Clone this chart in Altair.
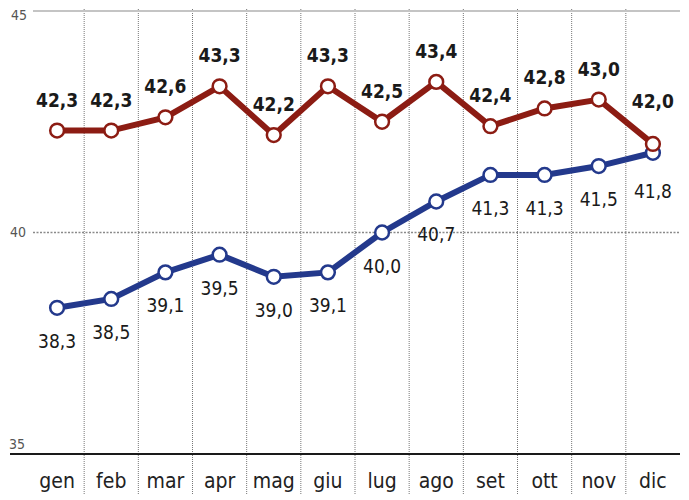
import altair as alt
import pandas as pd

months = ["gen", "feb", "mar", "apr", "mag", "giu", "lug", "ago", "set", "ott", "nov", "dic"]
red_values = [42.3, 42.3, 42.6, 43.3, 42.2, 43.3, 42.5, 43.4, 42.4, 42.8, 43.0, 42.0]
blue_values = [38.3, 38.5, 39.1, 39.5, 39.0, 39.1, 40.0, 40.7, 41.3, 41.3, 41.5, 41.8]
y_ticks = [35, 40, 45]

RED = "#8c1c13"
BLUE = "#23398c"
FONT = "'DejaVu Sans Condensed', 'Liberation Sans Narrow', 'Roboto Condensed', 'Arial Narrow', sans-serif"


def fmt(v):
    return f"{v:.1f}".replace(".", ",")


red_df = pd.DataFrame({"month": months, "value": red_values, "label": [fmt(v) for v in red_values]})
blue_df = pd.DataFrame({"month": months, "value": blue_values, "label": [fmt(v) for v in blue_values]})
bound_df = pd.DataFrame({"month": months[1:]})
tick_df = pd.DataFrame({"v": y_ticks, "label": [str(t) for t in y_ticks]})

xscale = alt.Scale(type="band", domain=months, paddingInner=0, paddingOuter=0)
yscale = alt.Scale(domain=[35, 45], nice=False, zero=False)
xaxis = alt.Axis(title=None, domain=False, ticks=False, grid=False, labelAngle=0,
                 labelFont=FONT, labelFontSize=21, labelColor="#222222", labelPadding=16)

X = alt.X("month:N", scale=xscale, bandPosition=0.5, axis=xaxis)
Y = alt.Y("value:Q", scale=yscale, axis=None)

# vertical dotted separators
vrules = alt.Chart(bound_df).mark_rule(color="#777777", strokeWidth=1, strokeDash=[1, 1]).encode(
    x=alt.X("month:N", scale=xscale, bandPosition=0, axis=xaxis),
    y=alt.value(-12), y2=alt.value(490))

# horizontal lines
h45 = alt.Chart(pd.DataFrame({"v": [45]})).mark_rule(color="#c4c4c4", strokeWidth=2).encode(
    y=alt.Y("v:Q", scale=yscale, axis=None), x=alt.value(3), x2=alt.value(650))
h40 = alt.Chart(pd.DataFrame({"v": [40]})).mark_rule(color="#8a8a8a", strokeWidth=1.5, strokeDash=[2, 1.5]).encode(
    y=alt.Y("v:Q", scale=yscale, axis=None), x=alt.value(3), x2=alt.value(650))
h35 = alt.Chart(pd.DataFrame({"v": [35]})).mark_rule(color="#1a1a1a", strokeWidth=2).encode(
    y=alt.Y("v:Q", scale=yscale, axis=None), x=alt.value(-20), x2=alt.value(650))

ylab_45 = alt.Chart(tick_df).transform_filter("datum.v == 45").mark_text(
    font=FONT, fontSize=14, color="#555555", align="right", baseline="middle", dy=5).encode(
    y=alt.Y("v:Q", scale=yscale, axis=None), x=alt.value(-3), text="label:N")
ylab_40 = alt.Chart(tick_df).transform_filter("datum.v == 40").mark_text(
    font=FONT, fontSize=14, color="#555555", align="right", baseline="middle").encode(
    y=alt.Y("v:Q", scale=yscale, axis=None), x=alt.value(-4), text="label:N")
ylab_35 = alt.Chart(tick_df).transform_filter("datum.v == 35").mark_text(
    font=FONT, fontSize=14, color="#555555", align="right", baseline="middle", dy=-9).encode(
    y=alt.Y("v:Q", scale=yscale, axis=None), x=alt.value(-5), text="label:N")

blue_line = alt.Chart(blue_df).mark_line(color=BLUE, strokeWidth=6).encode(x=X, y=Y)
blue_pts = alt.Chart(blue_df).mark_point(shape="circle", size=190, filled=True, fill="white",
                                          stroke=BLUE, strokeWidth=2.5, opacity=1).encode(x=X, y=Y)
red_line = alt.Chart(red_df).mark_line(color=RED, strokeWidth=6).encode(x=X, y=Y)
red_pts = alt.Chart(red_df).mark_point(shape="circle", size=190, filled=True, fill="white",
                                        stroke=RED, strokeWidth=2.5, opacity=1).encode(x=X, y=Y)

red_txt = alt.Chart(red_df).transform_filter("datum.month != 'dic'").mark_text(
    font=FONT, fontSize=19, fontWeight="bold", color="#1a1a1a", baseline="alphabetic", dy=-24).encode(
    x=X, y=Y, text="label:N")
red_txt_dic = alt.Chart(red_df).transform_filter("datum.month == 'dic'").mark_text(
    font=FONT, fontSize=19, fontWeight="bold", color="#1a1a1a", baseline="alphabetic", dy=-36).encode(
    x=X, y=Y, text="label:N")
blue_txt = alt.Chart(blue_df).transform_filter("datum.month != 'dic'").mark_text(
    font=FONT, fontSize=19, color="#1a1a1a", baseline="top", dy=25).encode(
    x=X, y=Y, text="label:N")
blue_txt_dic = alt.Chart(blue_df).transform_filter("datum.month == 'dic'").mark_text(
    font=FONT, fontSize=19, color="#1a1a1a", baseline="top", dy=30).encode(
    x=X, y=Y, text="label:N")

chart = alt.layer(
    vrules, h45, h40, h35, ylab_45, ylab_40, ylab_35,
    blue_line, blue_pts, red_line, red_pts,
    red_txt, red_txt_dic, blue_txt, blue_txt_dic,
).properties(
    width=650, height=443,
    autosize=alt.AutoSizeParams(type="none"),
    padding={"left": 22, "top": 3, "right": 0, "bottom": 40},
    background="white",
).configure_view(stroke=None)

chart.save("out.html", embed_options={"renderer": "svg", "actions": False})
